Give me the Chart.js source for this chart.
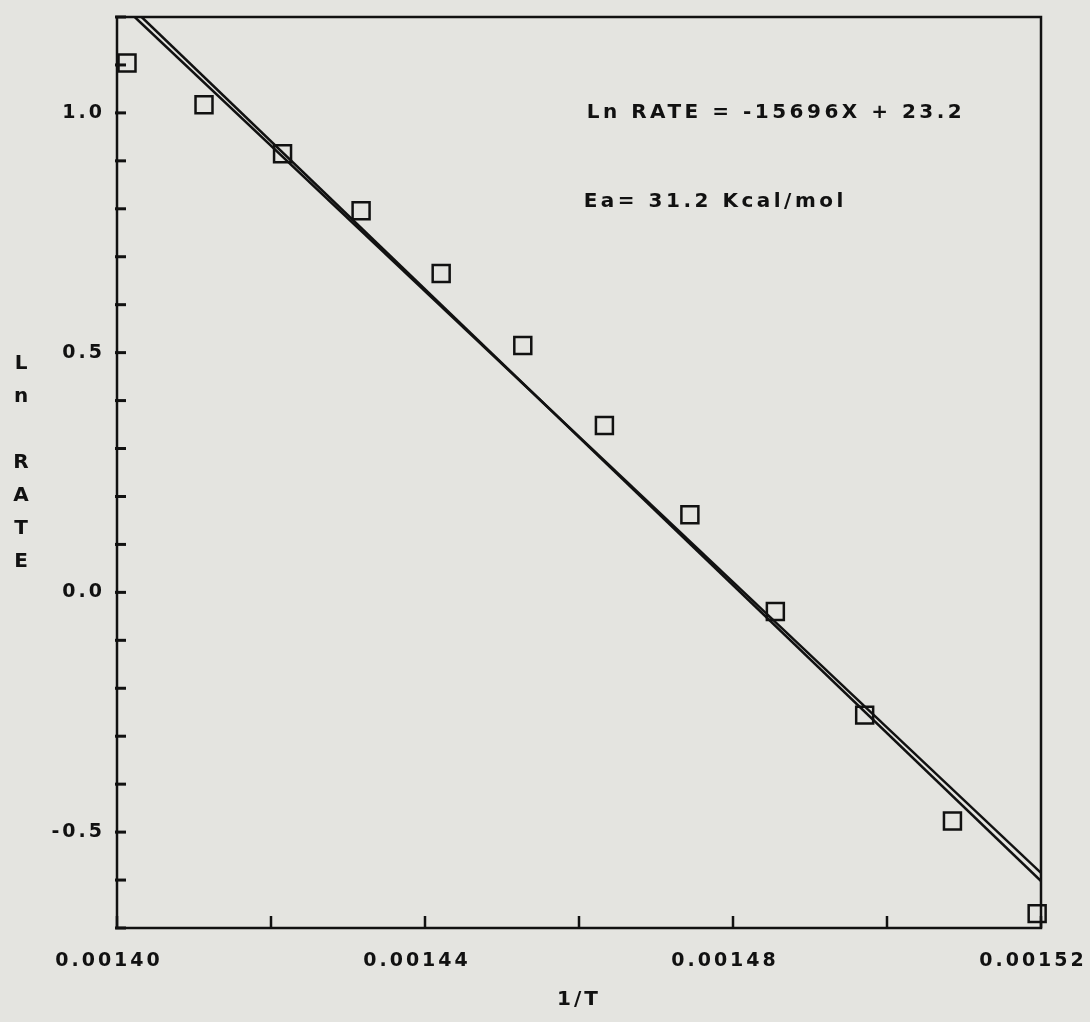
<!DOCTYPE html>
<html>
<head>
<meta charset="utf-8">
<title>Ln RATE vs 1/T</title>
<script src="https://cdn.jsdelivr.net/npm/chart.js@4.4.0/dist/chart.umd.min.js"></script>
<style>
  html, body { margin: 0; padding: 0; background: #e4e4e0; }
  canvas { display: block; }
</style>
</head>
<body>
<canvas id="grafica" width="1090" height="1022"></canvas>
<script>
// measured points (1/T, Ln RATE)
const invT = [0.0014013, 0.0014113, 0.0014215, 0.0014317, 0.0014421, 0.0014527,
              0.0014633, 0.0014744, 0.0014855, 0.0014971, 0.0015085, 0.0015195];
const lnRate = [1.104, 1.017, 0.915, 0.796, 0.665, 0.515,
                0.348, 0.162, -0.040, -0.256, -0.477, -0.67];

// the two fitted lines, read where they meet the frame
const fitAX = [0.0014023, 0.00152];
const fitAY = [1.2, -0.585];
const fitBX = [0.0014032, 0.00152];
const fitBY = [1.2, -0.602];

const xTickLabels = ['0.00140', '0.00144', '0.00148', '0.00152'];
const yTickLabels = ['-0.5', '0.0', '0.5', '1.0'];
const yTitle = 'Ln RATE';
const xTitle = '1/T';
const equationText = 'Ln RATE = -15696X + 23.2';
const energyText = 'Ea= 31.2 Kcal/mol';

const INK = '#111';
const FONT = 'DejaVu Sans';

const toPoints = (xs, ys) => xs.map((x, i) => ({ x: x, y: ys[i] }));

// paper colour, letter spacing, frame, inward ticks and the labels
const plotterLook = {
  id: 'plotterLook',
  beforeDraw(chart) {
    const ctx = chart.ctx;
    ctx.save();
    ctx.fillStyle = '#e4e4e0';
    ctx.fillRect(0, 0, chart.width, chart.height);
    ctx.restore();
    ctx.letterSpacing = '3px';
  },
  afterDraw(chart) {
    const ctx = chart.ctx;
    const a = chart.chartArea;
    const xs = chart.scales.x;
    const ys = chart.scales.y;
    ctx.save();
    ctx.strokeStyle = INK;
    ctx.lineWidth = 2.5;
    ctx.strokeRect(a.left, a.top, a.right - a.left, a.bottom - a.top);

    ctx.lineWidth = 3;
    ys.ticks.forEach(t => {
      const y = ys.getPixelForValue(t.value);
      ctx.beginPath();
      ctx.moveTo(a.left - 2, y);
      ctx.lineTo(a.left + 9, y);
      ctx.stroke();
    });
    ctx.lineWidth = 2.5;
    xs.ticks.forEach(t => {
      const x = xs.getPixelForValue(t.value);
      ctx.beginPath();
      ctx.moveTo(x, a.bottom);
      ctx.lineTo(x, a.bottom - 12);
      ctx.stroke();
    });

    // stacked y-axis title
    ctx.fillStyle = INK;
    ctx.font = 'bold 20px ' + FONT;
    ctx.letterSpacing = '0px';
    ctx.textAlign = 'center';
    ctx.textBaseline = 'middle';
    yTitle.split('').forEach((ch, i) => {
      ctx.fillText(ch, 21, a.top + 347 + i * 33);
    });

    // fit annotation
    ctx.letterSpacing = '3.5px';
    ctx.textAlign = 'left';
    const ax = xs.getPixelForValue(0.001461);
    ctx.fillText(equationText, ax, ys.getPixelForValue(1.0));
    ctx.fillText(energyText, ax - 3, ys.getPixelForValue(0.815));
    ctx.restore();
  }
};

const pickLabel = (list, v, eps) => {
  const s = list.find(l => Math.abs(Number(l) - v) < eps);
  return s === undefined ? '' : s;
};

new Chart(document.getElementById('grafica').getContext('2d'), {
  type: 'scatter',
  data: {
    datasets: [
      {
        label: 'fit A',
        data: toPoints(fitAX, fitAY),
        showLine: true,
        borderColor: INK,
        borderWidth: 2.5,
        pointRadius: 0
      },
      {
        label: 'fit B',
        data: toPoints(fitBX, fitBY),
        showLine: true,
        borderColor: INK,
        borderWidth: 2.5,
        pointRadius: 0
      },
      {
        label: 'Ln RATE',
        data: toPoints(invT, lnRate),
        pointStyle: 'rect',
        pointRadius: 12,
        pointBorderWidth: 2.5,
        pointBorderColor: INK,
        pointBackgroundColor: 'rgba(0,0,0,0)',
        clip: false
      }
    ]
  },
  options: {
    responsive: false,
    animation: false,
    layout: { padding: { left: 0, right: 49, top: 17, bottom: 0 } },
    plugins: {
      legend: { display: false },
      tooltip: { enabled: false }
    },
    scales: {
      x: {
        type: 'linear',
        min: 0.0014,
        max: 0.00152,
        grid: { display: false, drawTicks: false },
        border: { display: false },
        ticks: {
          stepSize: 0.00002,
          autoSkip: false,
          maxRotation: 0,
          padding: 22,
          labelOffset: -8,
          color: INK,
          font: { family: FONT, size: 19, weight: 'bold' },
          callback: v => pickLabel(xTickLabels, v, 1e-9)
        },
        title: {
          display: true,
          text: xTitle,
          color: INK,
          font: { family: FONT, size: 20, weight: 'bold' },
          padding: { top: 0, bottom: 10 }
        },
        afterFit: s => { s.height = 94; s.paddingLeft = 0; s.paddingRight = 0; }
      },
      y: {
        type: 'linear',
        min: -0.7,
        max: 1.2,
        grid: { display: false, drawTicks: false },
        border: { display: false },
        ticks: {
          stepSize: 0.1,
          autoSkip: false,
          padding: 12,
          color: INK,
          font: { family: FONT, size: 19, weight: 'bold' },
          callback: v => pickLabel(yTickLabels, v, 1e-6)
        },
        afterFit: s => { s.width = 117; s.paddingTop = 0; s.paddingBottom = 0; }
      }
    }
  },
  plugins: [plotterLook]
});
</script>
</body>
</html>
